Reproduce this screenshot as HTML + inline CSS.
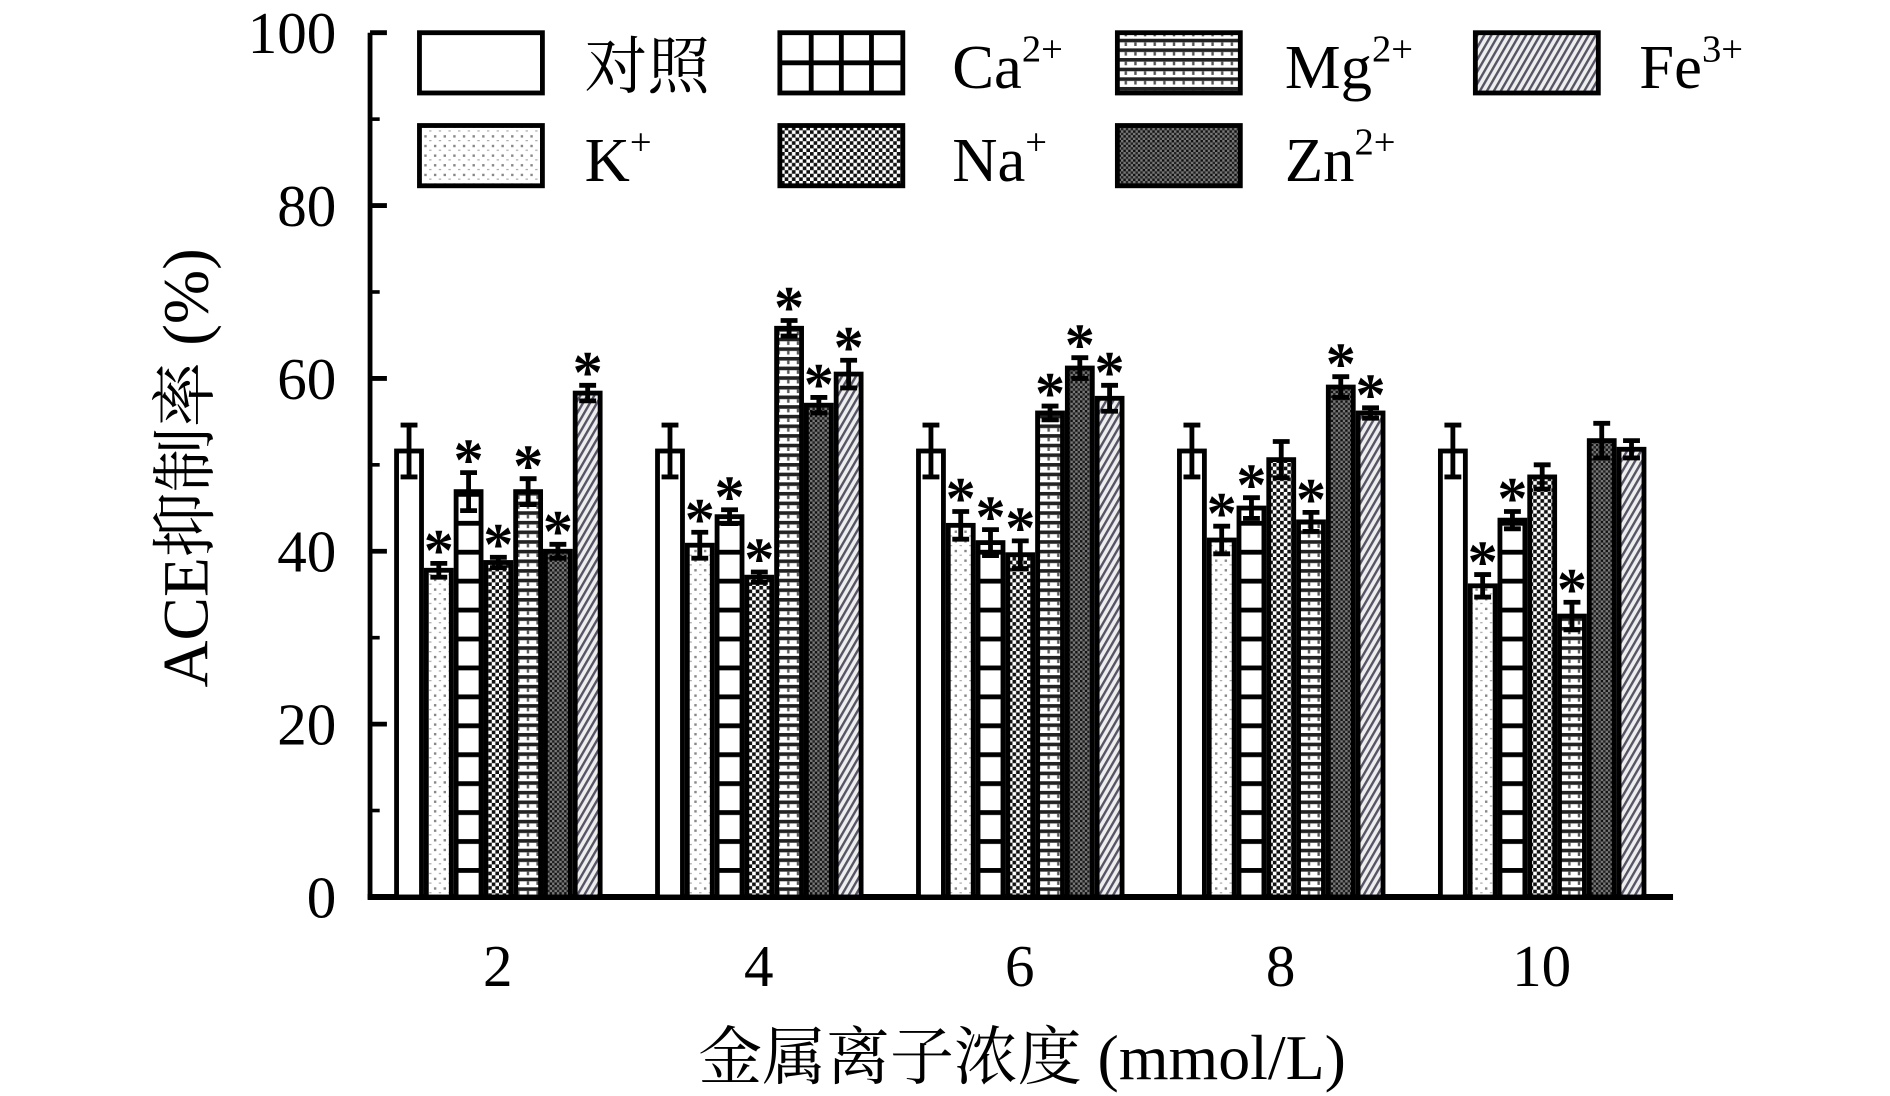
<!DOCTYPE html>
<html><head><meta charset="utf-8"><style>
html,body{margin:0;padding:0;background:#fff;}
svg{display:block;}
text{font-family:"Liberation Serif","Noto Serif CJK SC",serif;fill:#000;}
</style></head><body>
<svg id="chart" width="1890" height="1096" viewBox="0 0 1568 909" xmlns="http://www.w3.org/2000/svg">
<defs>
<pattern id="p-ctrl" width="8" height="8" patternUnits="userSpaceOnUse"><rect width="8" height="8" fill="#fff"/></pattern>
<pattern id="p-k" width="8" height="8" patternUnits="userSpaceOnUse"><rect width="8" height="8" fill="#fff"/><rect x="0" y="0" width="2" height="2" fill="#888"/><rect x="4" y="4" width="2" height="1" fill="#aaa"/></pattern>
<pattern id="p-ca" width="25" height="24" patternUnits="userSpaceOnUse"><rect width="25" height="24" fill="#fff"/><rect x="0" y="0" width="25" height="4" fill="#000"/></pattern>
<pattern id="p-na" width="6" height="6" patternUnits="userSpaceOnUse"><rect width="6" height="6" fill="#fff"/><rect width="3" height="3" fill="#111"/><rect x="3" y="3" width="3" height="3" fill="#111"/></pattern>
<pattern id="p-mg" width="8" height="8" patternUnits="userSpaceOnUse"><rect width="8" height="8" fill="#fff"/><rect y="0" width="8" height="3" fill="#222"/><rect x="5" y="3" width="2" height="3" fill="#555"/></pattern>
<pattern id="p-zn" width="4" height="4" patternUnits="userSpaceOnUse"><rect width="4" height="4" fill="#777"/><rect width="2" height="2" fill="#111"/><rect x="2" y="2" width="2" height="2" fill="#222"/></pattern>
<pattern id="p-fe" width="5" height="5" patternUnits="userSpaceOnUse" patternTransform="rotate(30)"><rect width="5" height="5" fill="#eee"/><rect width="2" height="5" fill="#556"/></pattern>
</defs>
<g id="axes"></g>
<g id="bars"></g>
<g id="legend"></g>
</svg>
<script>
const categories = ["2","4","6","8","10"];
const seriesNames = ["对照","K+","Ca2+","Na+","Mg2+","Zn2+","Fe3+"];
const ctrlVals = [51.6,51.6,51.6,51.6,51.6];
const kVals = [37.8,40.7,43.0,41.3,36.0];
const caVals = [46.9,44.0,41.0,45.0,43.6];
const naVals = [38.7,37.0,39.6,50.6,48.6];
const mgVals = [46.9,65.8,56.0,43.4,32.5];
const znVals = [40.0,56.9,61.2,59.0,52.8];
const feVals = [58.3,60.5,57.7,56.0,51.8];
const ctrlErr = [3,3,3,3,3];
const kErr = [0.8,1.5,1.6,1.6,1.3];
const caErr = [2.2,0.8,1.5,1.2,1.0];
const naErr = [0.6,0.6,1.6,2.1,1.4];
const mgErr = [1.5,0.9,0.8,1.1,1.6];
const znErr = [0.8,0.9,1.2,1.2,2.0];
const feErr = [0.9,1.6,1.5,0.6,1.0];
const ctrlSig = [0,0,0,0,0];
const kSig = [1,1,1,1,1];
const caSig = [1,1,1,1,1];
const naSig = [1,1,1,0,0];
const mgSig = [1,1,1,1,1];
const znSig = [1,1,1,1,0];
const feSig = [1,1,1,1,0];
const yTicks = [0,20,40,60,80,100];

const NS="http://www.w3.org/2000/svg";
const seriesVals=[ctrlVals,kVals,caVals,naVals,mgVals,znVals,feVals];
const seriesErr=[ctrlErr,kErr,caErr,naErr,mgErr,znErr,feErr];
const seriesSig=[ctrlSig,kSig,caSig,naSig,mgSig,znSig,feSig];
const fills=["p-ctrl","p-k","p-ca","p-na","p-mg","p-zn","p-fe"];
const y0=744, y1=27, x0=307, x1=1388;
function yS(v){return y0-(v/100)*(y0-y1);}
function xC(i){return 413+i*216.5;}
const bw=24.7;
function mk(tag,attrs,parent,txt){const e=document.createElementNS(NS,tag);for(const k in attrs)e.setAttribute(k,attrs[k]);if(txt!==undefined)e.textContent=txt;parent.appendChild(e);return e;}
const axes=document.getElementById('axes'), bars=document.getElementById('bars'), legend=document.getElementById('legend');

categories.forEach((c,i)=>{
  for(let s=0;s<7;s++){
    const v=seriesVals[s][i], e=seriesErr[s][i];
    const x=xC(i)-86+s*bw;
    const r=mk('rect',{x:x+2,y:yS(v),width:bw-4,height:y0-yS(v),fill:'url(#'+fills[s]+')',stroke:'#000','stroke-width':4},bars);
    
    
    const cx=x+bw/2;
    const eb=mk('path',{d:`M${cx},${yS(v+e)}V${yS(v-e)}M${cx-7},${yS(v+e)}H${cx+7}M${cx-7},${yS(v-e)}H${cx+7}`,stroke:'#000','stroke-width':4,fill:'none'},bars);
    
    
    if(seriesSig[s][i]){
      const t=mk('text',{x:cx,y:yS(v+e)+6,'text-anchor':'middle','font-size':50,'font-weight':'bold'},bars,'*');
      
      
    }
  }
});

const ya=mk('line',{x1:x0,y1:y1,x2:x0,y2:y0+2,stroke:'#000','stroke-width':4},axes);


const xa=mk('line',{x1:305,y1:y0,x2:x1,y2:y0,stroke:'#000','stroke-width':5},axes);


yTicks.forEach(t=>{
  const tk=mk('line',{x1:x0,y1:yS(t),x2:x0+14,y2:yS(t),stroke:'#000','stroke-width':4},axes);
  
  
  const mt=mk('line',{x1:x0,y1:yS(t+10),x2:x0+8,y2:yS(t+10),stroke:'#000','stroke-width':3},axes);
  
  
  const lb=mk('text',{x:x0-28,y:yS(t)+17,'text-anchor':'end','font-size':49},axes,String(t));
  
  
});
categories.forEach((c,i)=>{
  const lb=mk('text',{x:xC(i),y:818,'text-anchor':'middle','font-size':49},axes,c);
  
  
});
const yt=mk('text',{x:0,y:0,transform:'translate(172,388) rotate(-90)','text-anchor':'middle','font-size':54},axes,'ACE抑制率 (%)');


const xt=mk('text',{x:848,y:895,'text-anchor':'middle','font-size':53},axes,'金属离子浓度 (mmol/L)');



const leg=[
 {f:'p-ctrl',x:348,y:27,lx:485,t:'对照',sup:''},
 {f:'p-ca',x:647,y:27,lx:790,t:'Ca',sup:'2+'},
 {f:'p-mg',x:927,y:27,lx:1066,t:'Mg',sup:'2+'},
 {f:'p-fe',x:1224,y:27,lx:1360,t:'Fe',sup:'3+'},
 {f:'p-k',x:348,y:104,lx:485,t:'K',sup:'+'},
 {f:'p-na',x:647,y:104,lx:790,t:'Na',sup:'+'},
 {f:'p-zn',x:927,y:104,lx:1066,t:'Zn',sup:'2+'}
];
leg.forEach(l=>{
  const g=mk('g',{},legend);
  
  
  mk('rect',{x:l.x,y:l.y,width:102,height:50,fill:l.f==='p-ca'?'#fff':'url(#'+l.f+')',stroke:'#000','stroke-width':4},g);
  if(l.f==='p-ca'){
    mk('path',{d:`M${l.x},${l.y+25}H${l.x+102}M${l.x+26},${l.y}V${l.y+50}M${l.x+51},${l.y}V${l.y+50}M${l.x+76},${l.y}V${l.y+50}`,stroke:'#000','stroke-width':4},g);
  }
  const t=mk('text',{x:l.lx,y:l.y+46,'font-size':52},g,l.t);
  if(l.sup){mk('tspan',{'font-size':32,dy:-22},t,l.sup);}
});
</script>
</body></html>
